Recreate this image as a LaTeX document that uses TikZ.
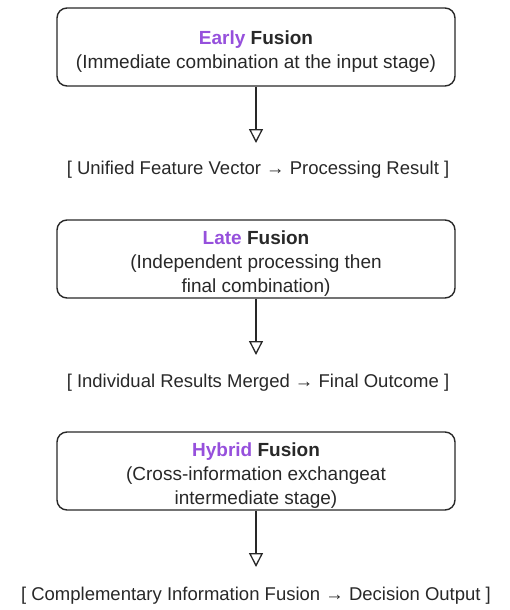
\documentclass[tikz,border=0pt]{standalone}
\usepackage{fontspec}
\setmainfont{Liberation Sans}
\usetikzlibrary{arrows.meta}
\definecolor{purp}{RGB}{150,80,220}
\definecolor{ink}{RGB}{40,40,40}
\begin{document}
\begin{tikzpicture}[x=1pt,y=-1pt,
  fusionbox/.style={draw=ink, line width=1.4pt, rounded corners=10pt, minimum width=398pt, minimum height=78pt, inner sep=0pt},
  boxtext/.style={align=center, font=\fontsize{19}{24}\selectfont, text=ink, inner sep=0pt, yshift=-5pt},
  resultlabel/.style={font=\fontsize{18.5}{22}\selectfont, text=ink, inner sep=0pt},
  flow/.style={draw=ink, line width=1.3pt, -{Triangle[open, width=14pt, length=14pt, line width=1.3pt]}}]
\useasboundingbox (0,0) rectangle (509,610);
\node[fusionbox] (b1) at (256,47) {};
\node[boxtext] (b1t) at (b1.center) {\textbf{\color{purp}Early} \textbf{Fusion}\\(Immediate combination at the input stage)};
\coordinate (t1) at (256,143);
\node[resultlabel] (r1) at (258,170) {[ Unified Feature Vector → Processing Result ]};
\draw[flow] (b1.south) -- (t1);
\node[fusionbox] (b2) at (256,259) {};
\node[boxtext] (b2t) at (b2.center) {\textbf{\color{purp}Late} \textbf{Fusion}\\(Independent processing then\\final combination)};
\coordinate (t2) at (256,355);
\node[resultlabel] (r2) at (258,383) {[ Individual Results Merged → Final Outcome ]};
\draw[flow] (b2.south) -- (t2);
\node[fusionbox] (b3) at (256,471) {};
\node[boxtext] (b3t) at (b3.center) {\textbf{\color{purp}Hybrid} \textbf{Fusion}\\(Cross-information exchangeat\\intermediate stage)};
\coordinate (t3) at (256,567);
\node[resultlabel] (r3) at (256,596) {[ Complementary Information Fusion → Decision Output ]};
\draw[flow] (b3.south) -- (t3);
\end{tikzpicture}
\end{document}
